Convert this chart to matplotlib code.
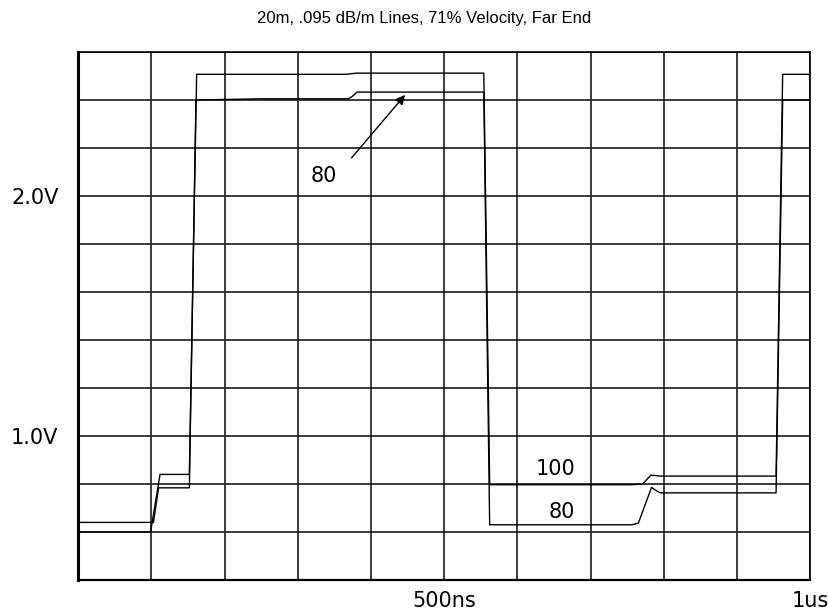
import numpy as np
import matplotlib.pyplot as plt

# far end waveforms, time in ns, volts
t_100 = [0, 99, 112, 152, 162, 366, 380, 554, 562, 756, 771, 782, 795, 953, 962, 1000]
v_100 = [0.60, 0.60, 0.84, 0.84, 2.507, 2.507, 2.512, 2.512, 0.797, 0.797, 0.80, 0.837, 0.833, 0.833, 2.507, 2.507]

t_80 = [0, 103, 110, 152, 161, 250, 369, 374, 381, 554, 562, 756, 765, 783, 788, 795, 953, 962, 1000]
v_80 = [0.64, 0.64, 0.784, 0.784, 2.40, 2.405, 2.405, 2.414, 2.433, 2.433, 0.63, 0.63, 0.637, 0.786, 0.775, 0.763, 0.763, 2.40, 2.40]

title = "20m, .095 dB/m Lines, 71% Velocity, Far End"
y_grid = np.arange(0.4, 2.61, 0.2)
y_labels = ["1.0V" if abs(v - 1.0) < 1e-6 else "2.0V" if abs(v - 2.0) < 1e-6 else "" for v in y_grid]
x_grid = np.arange(0, 1001, 100)
x_labels = ["500ns" if x == 500 else "1us" if x == 1000 else "" for x in x_grid]

fig = plt.figure(figsize=(8.29, 6.14), dpi=100)
ax = fig.add_axes([78 / 829, 34 / 614, 732.5 / 829, 528 / 614])

ax.plot(t_100, v_100, color="black", lw=1.0)
ax.plot(t_80, v_80, color="black", lw=1.0)

ax.set_xlim(0, 1000)
ax.set_ylim(0.4, 2.6)
ax.set_xticks(x_grid)
ax.set_xticklabels(x_labels, fontsize=15)
ax.set_yticks(y_grid)
ax.set_yticklabels(y_labels, fontsize=15)
ax.tick_params(length=0)
ax.tick_params(axis="y", pad=14)
ax.tick_params(axis="x", pad=8)
ax.grid(True, color="#1a1a1a", lw=1.2)
ax.set_axisbelow(True)
for side in ["top", "right"]:
    ax.spines[side].set_linewidth(1.2)
ax.spines["left"].set_linewidth(2.2)
ax.spines["bottom"].set_linewidth(1.6)

# annotations
ax.annotate("", xy=(449, 2.43), xytext=(371, 2.15),
            arrowprops=dict(arrowstyle="-|>", color="black", lw=1.0, mutation_scale=14))
ax.text(336, 2.083, "80", fontsize=15, ha="center", va="center")
ax.text(652, 0.862, "100", fontsize=15, ha="center", va="center")
ax.text(661, 0.683, "80", fontsize=15, ha="center", va="center")

fig.text(424 / 829, 1 - 18 / 614, title, fontsize=12, family="Liberation Sans",
         ha="center", va="center")

fig.savefig("out.png", dpi=100)
